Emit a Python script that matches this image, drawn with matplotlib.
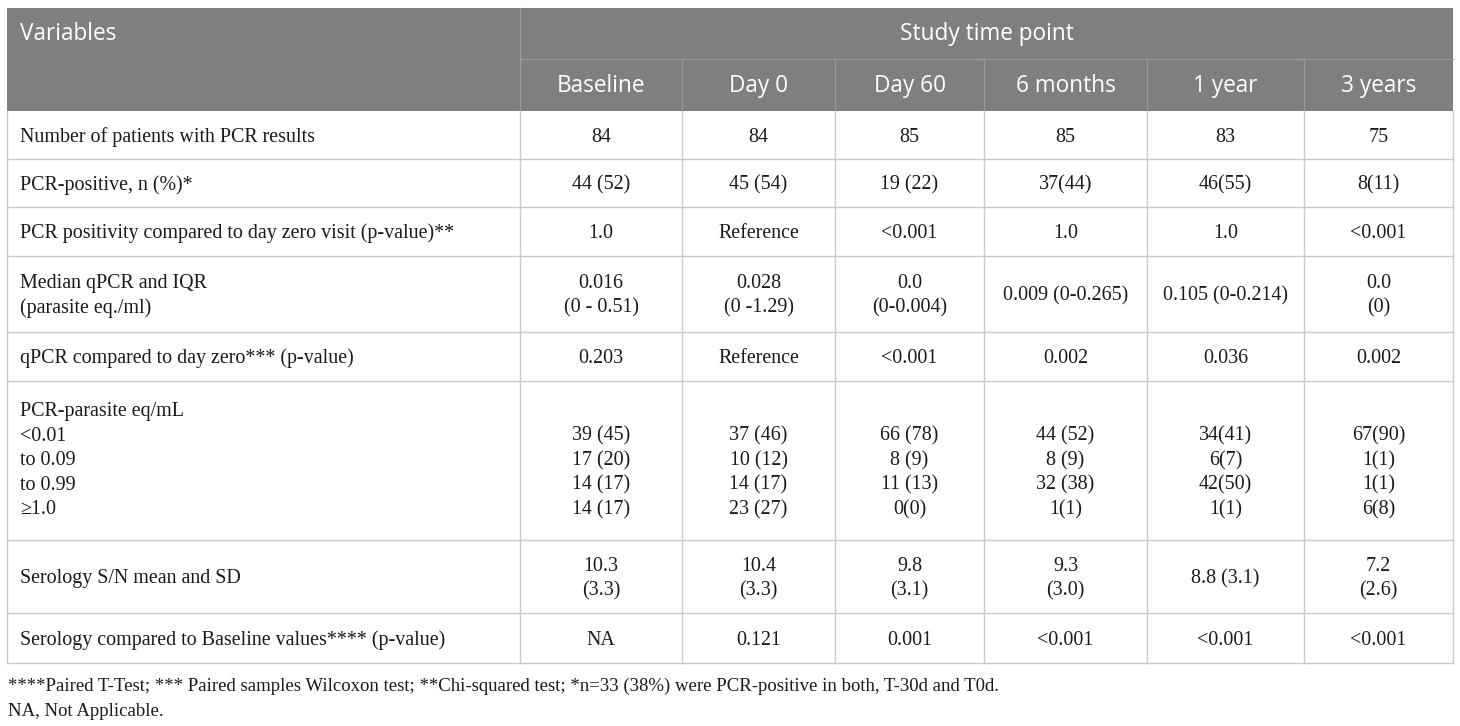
import matplotlib.pyplot as plt
from matplotlib.patches import Rectangle

# table content
time_points = ["Baseline", "Day 0", "Day 60", "6 months", "1 year", "3 years"]

row_labels = [
    "Number of patients with PCR results",
    "PCR-positive, n (%)*",
    "PCR positivity compared to day zero visit (p-value)**",
    "Median qPCR and IQR\n(parasite eq./ml)",
    "qPCR compared to day zero*** (p-value)",
    "PCR-parasite eq/mL\n<0.01\nto 0.09\nto 0.99\n\u22651.0",
    "Serology S/N mean and SD",
    "Serology compared to Baseline values**** (p-value)",
]

n_patients = ["84", "84", "85", "85", "83", "75"]
pcr_positive = ["44 (52)", "45 (54)", "19 (22)", "37(44)", "46(55)", "8(11)"]
pcr_pos_p = ["1.0", "Reference", "<0.001", "1.0", "1.0", "<0.001"]
median_qpcr = ["0.016\n(0 - 0.51)", "0.028\n(0 -1.29)", "0.0\n(0-0.004)",
               "0.009 (0-0.265)", "0.105 (0-0.214)", "0.0\n(0)"]
qpcr_p = ["0.203", "Reference", "<0.001", "0.002", "0.036", "0.002"]
parasite_lt001 = ["39 (45)", "37 (46)", "66 (78)", "44 (52)", "34(41)", "67(90)"]
parasite_to009 = ["17 (20)", "10 (12)", "8 (9)", "8 (9)", "6(7)", "1(1)"]
parasite_to099 = ["14 (17)", "14 (17)", "11 (13)", "32 (38)", "42(50)", "1(1)"]
parasite_ge1 = ["14 (17)", "23 (27)", "0(0)", "1(1)", "1(1)", "6(8)"]
serology_mean = ["10.3\n(3.3)", "10.4\n(3.3)", "9.8\n(3.1)", "9.3\n(3.0)",
                 "8.8 (3.1)", "7.2\n(2.6)"]
serology_p = ["NA", "0.121", "0.001", "<0.001", "<0.001", "<0.001"]

footnotes = [
    "****Paired T-Test; *** Paired samples Wilcoxon test; **Chi-squared test; "
    "*n=33 (38%) were PCR-positive in both, T-30d and T0d.",
    "NA, Not Applicable.",
]

# layout (pixels)
W, H = 1460, 726
col_edges = [7, 520, 682, 835, 984, 1147, 1304, 1453]
head_edges = [8, 59, 111]
row_edges = [111, 159, 207, 256, 332, 381, 540, 613, 663]
line_pitch = 24.5
header_gray = "#7f7f7f"
grid_color = "#c9c9c9"
serif = "Liberation Serif"
sans = "Open Sans"
body_size = 14.4
head_size = 16.3
note_size = 13.5


def cell_lines(ax, x, yc, text, ha="center", size=body_size):
    lines = text.split("\n")
    n = len(lines)
    for i, ln in enumerate(lines):
        y = yc + (i - (n - 1) / 2) * line_pitch
        ax.text(x, y + 0.33 * size * 100 / 72, ln, ha=ha, va="baseline",
                fontsize=size, family=serif, color="#1a1a1a")


fig = plt.figure(figsize=(W / 100, H / 100), dpi=100)
ax = fig.add_axes([0, 0, 1, 1])
ax.set_xlim(0, W)
ax.set_ylim(H, 0)
ax.set_axis_off()

# header background
ax.add_patch(Rectangle((col_edges[0], head_edges[0]),
                       col_edges[-1] - col_edges[0], head_edges[-1] - head_edges[0],
                       facecolor=header_gray, edgecolor="none"))
ax.plot([col_edges[1], col_edges[-1]], [head_edges[1]] * 2, color="#999999", lw=0.9)
for x in col_edges[1:-1]:
    y0 = head_edges[0] if x == col_edges[1] else head_edges[1]
    ax.plot([x, x], [y0, head_edges[-1]], color="#999999", lw=0.9)

ax.text(20, (head_edges[0] + head_edges[1]) / 2 + 1, "Variables", ha="left",
        va="center", fontsize=head_size, family=sans, color="white")
ax.text((col_edges[1] + col_edges[-1]) / 2, (head_edges[0] + head_edges[1]) / 2 + 1,
        "Study time point", ha="center", va="center", fontsize=head_size,
        family=sans, color="white")
for j, tp in enumerate(time_points):
    xc = (col_edges[j + 1] + col_edges[j + 2]) / 2
    ax.text(xc, (head_edges[1] + head_edges[2]) / 2 + 1, tp, ha="center", va="center",
            fontsize=head_size, family=sans, color="white")

# body grid
for y in row_edges[1:]:
    ax.plot([col_edges[0], col_edges[-1]], [y, y], color=grid_color, lw=1.0)
for x in col_edges:
    ax.plot([x, x], [row_edges[0], row_edges[-1]], color=grid_color, lw=1.0)

parasite = ["\n".join(v) for v in zip(parasite_lt001, parasite_to009,
                                        parasite_to099, parasite_ge1)]
body = [n_patients, pcr_positive, pcr_pos_p, median_qpcr, qpcr_p,
        parasite, serology_mean, serology_p]

for i, (label, vals) in enumerate(zip(row_labels, body)):
    yc = (row_edges[i] + row_edges[i + 1]) / 2
    cell_lines(ax, 20, yc - (2 if i == 5 else 0), label, ha="left")
    for j, v in enumerate(vals):
        xc = (col_edges[j + 1] + col_edges[j + 2]) / 2
        if i == 5:
            # values line up with the four threshold lines of the label
            cell_lines(ax, xc, yc - 2 + line_pitch / 2, v)
        else:
            cell_lines(ax, xc, yc, v)

for k, note in enumerate(footnotes):
    ax.text(8, 686 + k * 26 + 4.5, note, ha="left", va="baseline",
            fontsize=note_size, family=serif, color="#1a1a1a")

fig.savefig("out.png", dpi=100, facecolor="white")
